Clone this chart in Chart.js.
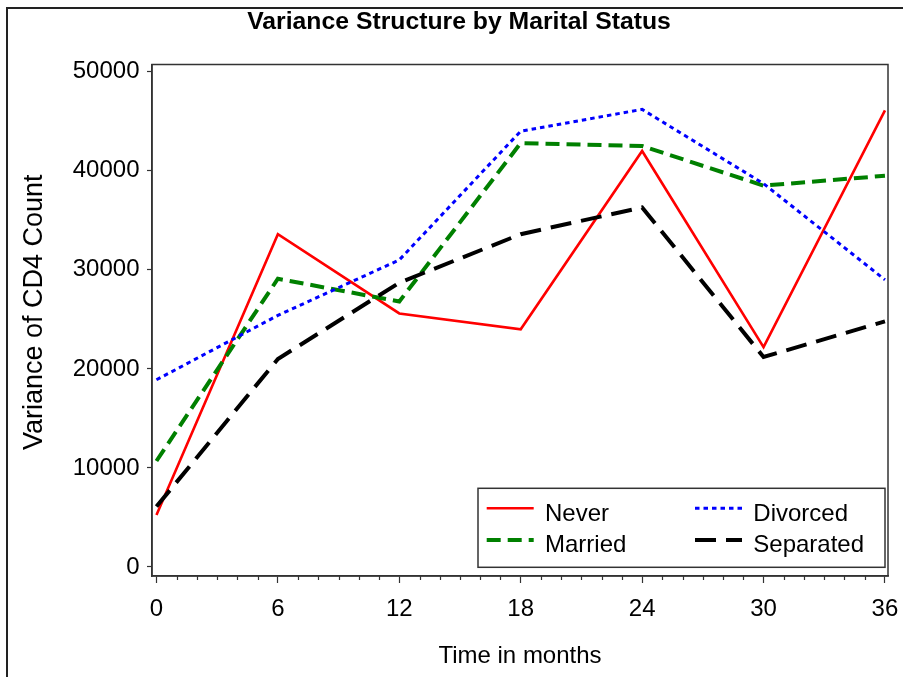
<!DOCTYPE html>
<html>
<head>
<meta charset="utf-8">
<title>Variance Structure by Marital Status</title>
<script src="https://cdn.jsdelivr.net/npm/chart.js@4/dist/chart.umd.min.js"></script>
<style>
  html, body { margin: 0; padding: 0; background: #ffffff; }
  canvas { display: block; }
</style>
</head>
<body>
<canvas id="chart" width="903" height="677"></canvas>
<script>
// Follow-up visits (months)
const months = [0, 6, 12, 18, 24, 30, 36];

// Variance of CD4 count at each visit, by marital status
const never     = [5250, 33600, 25600, 24000, 42000, 22200, 46100];
const married   = [10700, 29100, 26800, 42800, 42500, 38500, 39500];
const divorced  = [18900, 25400, 31000, 44000, 46200, 38700, 29000];
const separated = [6100, 21000, 28700, 33600, 36300, 21200, 24800];

// Axis tick values
const xTicks = [0, 6, 12, 18, 24, 30, 36];
const yTicks = [0, 10000, 20000, 30000, 40000, 50000];

const FONT = "'Liberation Sans', Arial, Helvetica, sans-serif";
const FRAME = '#333333';

const toPoints = (vals) => vals.map((v, i) => ({ x: months[i], y: v }));

// Box frame around the plot area and the thin page border
const framePlugin = {
  id: 'frame',
  beforeDraw(chart) {
    const ctx = chart.ctx;
    ctx.save();
    ctx.strokeStyle = '#222222';
    ctx.lineWidth = 2;
    ctx.strokeRect(7, 8, 2000, 2000);
    ctx.restore();
  },
  afterDraw(chart) {
    const { ctx, chartArea: a } = chart;
    ctx.save();
    ctx.strokeStyle = FRAME;
    ctx.lineWidth = 1.5;
    ctx.strokeRect(a.left, a.top, a.right - a.left, a.bottom - a.top);
    // minor monthly ticks on the time axis
    const xs = chart.scales.x;
    ctx.lineWidth = 1.2;
    ctx.beginPath();
    for (let m = xTicks[0]; m <= xTicks[xTicks.length - 1]; m++) {
      if (xTicks.includes(m)) continue;
      const px = Math.round(xs.getPixelForValue(m)) + 0.5;
      ctx.moveTo(px, a.bottom);
      ctx.lineTo(px, a.bottom + 4);
    }
    ctx.stroke();
    // vertical axis title
    ctx.fillStyle = '#000000';
    ctx.font = '27px ' + FONT;
    ctx.textAlign = 'center';
    ctx.textBaseline = 'middle';
    ctx.translate(35, (a.top + a.bottom) / 2 - 8);
    ctx.rotate(-Math.PI / 2);
    ctx.fillText('Variance of CD4 Count', 0, 0);
    ctx.restore();
  }
};

// Two-column legend box in the lower right corner of the plot
const legendBoxPlugin = {
  id: 'legendBox',
  afterDatasetsDraw(chart) {
    const { ctx, chartArea: a } = chart;
    const w = 407, h = 79;
    const left = a.right - 3 - w;
    const top = a.bottom - 8.7 - h;
    ctx.save();
    ctx.fillStyle = '#ffffff';
    ctx.fillRect(left, top, w, h);
    ctx.strokeStyle = FRAME;
    ctx.lineWidth = 1.5;
    ctx.strokeRect(left, top, w, h);
    const cols = [8.7, 217];
    const rows = [20, 51.7];
    const textRows = [32.4, 63.4];
    const slots = [[0, 0], [0, 1], [1, 0], [1, 1]]; // Never, Married | Divorced, Separated
    chart.data.datasets.forEach((ds, i) => {
      const [c, r] = slots[i];
      const x0 = left + cols[c];
      const y = top + rows[r];
      ctx.save();
      ctx.strokeStyle = ds.borderColor;
      ctx.lineWidth = ds.borderWidth;
      ctx.setLineDash(ds.borderDash || []);
      ctx.beginPath();
      ctx.moveTo(x0, y);
      ctx.lineTo(x0 + 47, y);
      ctx.stroke();
      ctx.restore();
      ctx.fillStyle = '#000000';
      ctx.font = '24px ' + FONT;
      ctx.textAlign = 'left';
      ctx.textBaseline = 'alphabetic';
      ctx.fillText(ds.label, x0 + 58.3, top + textRows[r]);
    });
    ctx.restore();
  }
};

new Chart(document.getElementById('chart'), {
  type: 'line',
  data: {
    datasets: [
      { label: 'Never', data: toPoints(never), borderColor: '#ff0000', borderWidth: 2.6, borderDash: [], order: 4 },
      { label: 'Married', data: toPoints(married), borderColor: '#008000', borderWidth: 4, borderDash: [14, 7], order: 3 },
      { label: 'Divorced', data: toPoints(divorced), borderColor: '#0000ff', borderWidth: 3, borderDash: [4.5, 4], order: 2 },
      { label: 'Separated', data: toPoints(separated), borderColor: '#000000', borderWidth: 4, borderDash: [21, 10], order: 1 }
    ]
  },
  options: {
    responsive: false,
    animation: false,
    devicePixelRatio: 1,
    layout: { padding: { left: 30, right: 15, top: 0, bottom: 0 } },
    elements: {
      point: { radius: 0, hoverRadius: 0 },
      line: { tension: 0, fill: false, borderJoinStyle: 'miter', borderCapStyle: 'butt' }
    },
    plugins: {
      legend: { display: false },
      tooltip: { enabled: false },
      title: {
        display: true,
        text: 'Variance Structure by Marital Status',
        color: '#000000',
        font: { family: FONT, size: 24.75, weight: 'bold', lineHeight: 1.2 },
        padding: { top: 7.6, bottom: 27.2 }
      }
    },
    scales: {
      x: {
        type: 'linear',
        min: -0.22,
        max: 36.15,
        afterBuildTicks: (s) => { s.ticks = xTicks.map(v => ({ value: v })); },
        afterFit: (s) => { s.height = 101; s.paddingLeft = 0; s.paddingRight = 0; },
        grid: { drawOnChartArea: false, drawTicks: true, tickLength: 7, tickColor: FRAME, tickWidth: 1.2 },
        border: { display: true, color: FRAME, width: 1.5 },
        ticks: { color: '#000000', font: { family: FONT, size: 24 }, padding: 12, maxRotation: 0, autoSkip: false },
        title: {
          display: true,
          text: 'Time in months',
          color: '#000000',
          font: { family: FONT, size: 24, lineHeight: 1.2 },
          padding: { top: 0, bottom: 6.6 }
        }
      },
      y: {
        type: 'linear',
        min: -909,
        max: 50730,
        afterBuildTicks: (s) => { s.ticks = yTicks.map(v => ({ value: v })); },
        afterFit: (s) => { s.width = 122; s.paddingTop = 0; s.paddingBottom = 0; },
        grid: { drawOnChartArea: false, drawTicks: true, tickLength: 5, tickColor: FRAME, tickWidth: 1.2 },
        border: { display: true, color: FRAME, width: 1.5 },
        ticks: { color: '#000000', font: { family: FONT, size: 24 }, padding: 7.5, callback: (v) => String(v) }
      }
    }
  },
  plugins: [framePlugin, legendBoxPlugin]
});
</script>
</body>
</html>
